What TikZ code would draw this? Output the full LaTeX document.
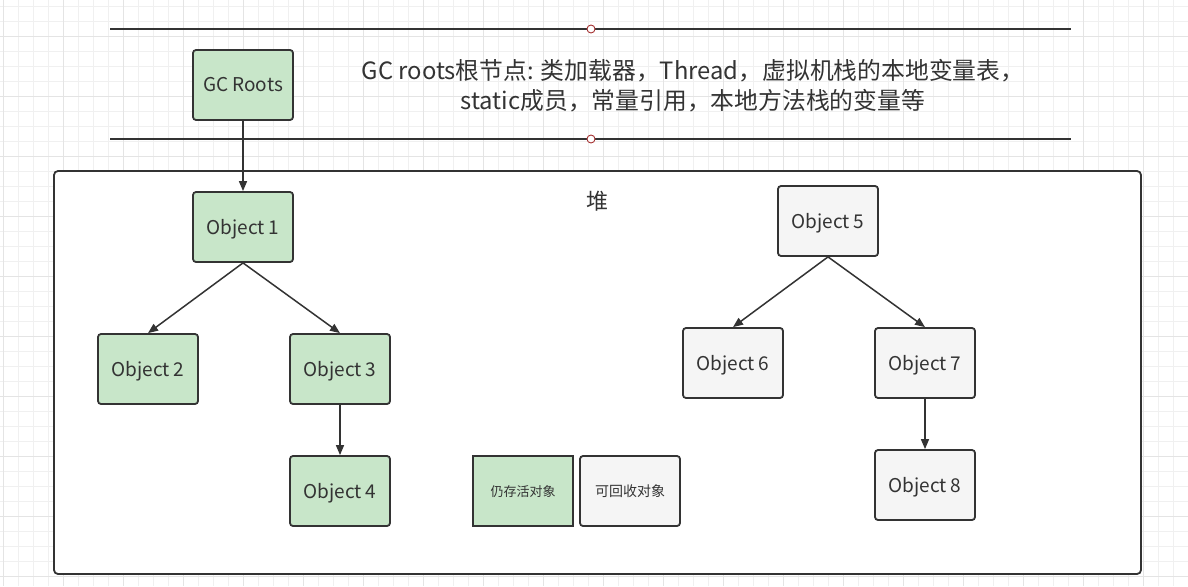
\documentclass[tikz,border=0pt]{standalone}
\usepackage{fontspec}
\setmainfont{Noto Sans CJK SC}
\usetikzlibrary{arrows.meta}
\definecolor{livegreen}{RGB}{200,230,201}
\definecolor{deadgray}{RGB}{245,245,245}
\definecolor{edgedark}{RGB}{51,51,51}
\definecolor{gridminor}{RGB}{240,240,240}
\definecolor{gridmajor}{RGB}{228,228,228}
\definecolor{markred}{RGB}{165,50,50}

\tikzset{
  objbox/.style={draw=edgedark, line width=1.8pt, rounded corners=3pt,
    minimum width=100pt, minimum height=70pt, inner sep=0pt,
    text height=14pt, text depth=0pt,
    text=edgedark, font=\fontsize{19}{22}\selectfont},
  alive/.style={objbox, fill=livegreen},
  dead/.style={objbox, fill=deadgray},
  legendbox/.style={objbox, text height=10pt, font=\fontsize{13}{15}\selectfont},
  ref/.style={draw=edgedark, line width=1.5pt, -{Triangle[length=10pt,width=8pt]}},
  divider/.style={draw=edgedark, line width=2.2pt},
  midmark/.style={circle, draw=markred, fill=white, line width=0.9pt, minimum size=8pt, inner sep=0pt},
}

\begin{document}
\begin{tikzpicture}[x=1pt,y=-1pt]
\useasboundingbox (0,0) rectangle (1188,586);
% background grid
\foreach \gx in {3,18,...,1188} \draw[gridminor, line width=0.8pt] (\gx,0) -- (\gx,586);
\foreach \gy in {6,21,...,586} \draw[gridminor, line width=0.8pt] (0,\gy) -- (1188,\gy);
\foreach \gx in {3,63,...,1188} \draw[gridmajor, line width=0.9pt] (\gx,0) -- (\gx,586);
\foreach \gy in {36,96,...,586} \draw[gridmajor, line width=0.9pt] (0,\gy) -- (1188,\gy);

% roots area
\coordinate (topL) at (110,29);
\coordinate (topR) at (1071,29);
\coordinate (botL) at (110,139);
\coordinate (botR) at (1071,139);
\draw[divider] (topL) -- (topR);
\draw[divider] (botL) -- (botR);
\node[midmark] (topmark) at (591,29) {};
\node[midmark] (botmark) at (591,139) {};

\node[alive] (roots) at (243,85) {GC Roots};
\node[text=edgedark, align=center, font=\fontsize{23.8}{30}\selectfont] (rootsinfo) at (693,86)
  {GC roots根节点: 类加载器，Thread，虚拟机栈的本地变量表，\\static成员，常量引用，本地方法栈的变量等};

% heap
\draw[edgedark, fill=white, line width=1.8pt, rounded corners=4pt] (54,171) rectangle (1141,574);
\node[text=edgedark, font=\fontsize{22}{24}\selectfont] (heap) at (597,201) {堆};

% reachable objects
\node[alive] (obj1) at (243,227) {Object 1};
\node[alive] (obj2) at (148,369) {Object 2};
\node[alive] (obj3) at (340,369) {Object 3};
\node[alive] (obj4) at (340,491) {Object 4};

% unreachable objects
\node[dead] (obj5) at (828,221) {Object 5};
\node[dead] (obj6) at (733,363) {Object 6};
\node[dead] (obj7) at (925,363) {Object 7};
\node[dead] (obj8) at (925,485) {Object 8};

% legend
\node[legendbox, fill=livegreen, sharp corners] (legalive) at (523,491) {仍存活对象};
\node[legendbox, fill=deadgray, font=\fontsize{14}{16}\selectfont] (legdead) at (630,491) {可回收对象};

% references
\draw[ref] (roots.south) -- (obj1.north);
\draw[ref] (obj1.south) -- (obj2.north);
\draw[ref] (obj1.south) -- (obj3.north);
\draw[ref] (obj3.south) -- (obj4.north);
\draw[ref] (obj5.south) -- (obj6.north);
\draw[ref] (obj5.south) -- (obj7.north);
\draw[ref] (obj7.south) -- (obj8.north);
\end{tikzpicture}
\end{document}
